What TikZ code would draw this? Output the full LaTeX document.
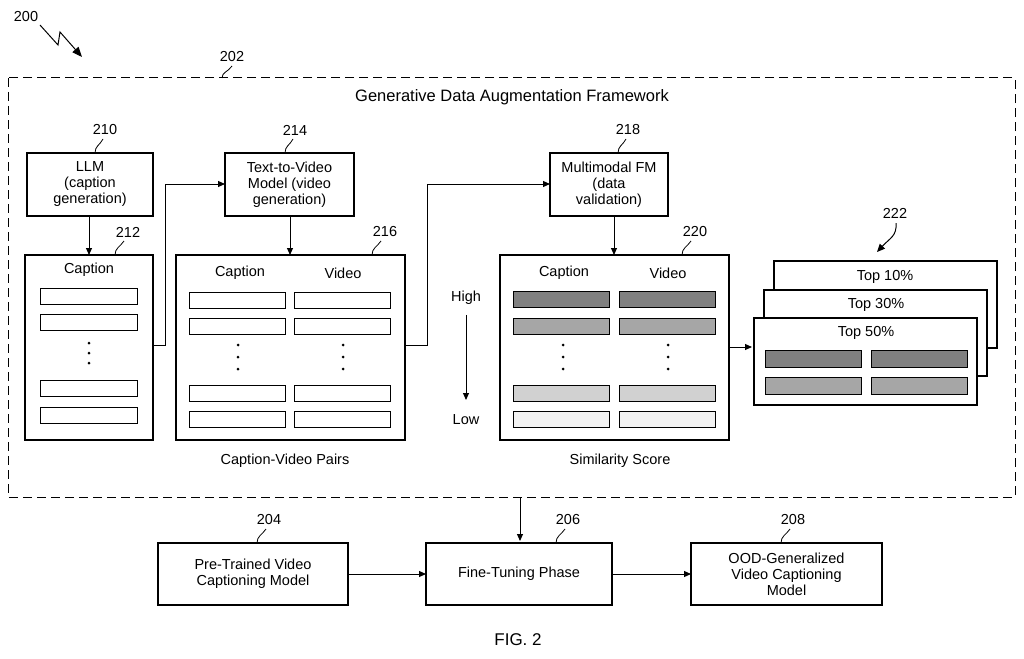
\documentclass[tikz,border=0pt]{standalone}
\usepackage{fontspec}
\setmainfont{Liberation Sans}
\usetikzlibrary{arrows.meta}
\begin{document}
\begin{tikzpicture}[x=1pt,y=-1pt,
  box/.style={draw,line width=1.1pt,fill=white},
  bar/.style={draw,line width=1pt},
  arr/.style={line width=1pt,-{Triangle[length=7pt,width=6pt]}},
  txt/.style={font=\fontsize{14.5}{16}\selectfont,align=center,inner sep=0},
  lbl/.style={font=\fontsize{14.5}{16}\selectfont,inner sep=0},
  tick/.style={line width=0.8pt}]
\useasboundingbox (0,0) rectangle (1024,658);
% frame
\draw[line width=1pt,dash pattern=on 9pt off 5pt] (8,78) rectangle (1015,497);
\node[lbl,font=\fontsize{16.5}{18}\selectfont] (title) at (512,97) {Generative Data Augmentation Framework};
\node[lbl] (l200) at (26,17) {200};
\coordinate (s200) at (82,57);
\draw[line width=1pt,-{Triangle[length=10pt,width=8pt]}] (40,25) -- (58,45) -- (60,32) -- (82,57);
\node[lbl] (l202) at (232,57) {202};
\draw[tick] (232,66) .. controls (228,72) and (222,72) .. (222,78);
% LLM
\draw[box] (27,153) rectangle (153,216);
\node[txt] (llm) at (90,184.5) {LLM\\(caption\\generation)};
\node[lbl] (l210) at (105,130) {210};
\draw[tick] (103,139) .. controls (100,145) and (95,146) .. (95,153);
% caption box 212
\draw[box] (25,255) rectangle (153,440);
\node[lbl] (c212) at (89,270) {Caption};
\foreach \y in {288,314,380,407} \draw[bar] (40,\y) rectangle (137,\y+16);
\foreach \y in {343,353,363} \fill (89,\y) circle (1.5);
\node[lbl] (l212) at (128,232) {212};
\draw[tick] (124,241) .. controls (120,247) and (115,248) .. (115,255);
\draw[arr] (89,216) -- (89,255);
% T2V
\draw[box] (225,153) rectangle (354,216);
\node[txt] (t2v) at (289.5,184.5) {Text-to-Video\\Model (video\\generation)};
\node[lbl] (l214) at (295,130) {214};
\draw[tick] (293,139) .. controls (290,145) and (285,146) .. (285,153);
\draw[arr] (153,345) -- (165,345) -- (165,184) -- (225,184);
\draw[arr] (290,216) -- (290,255);
% 216
\draw[box] (176,255) rectangle (405,440);
\node[lbl] (c216) at (240,273) {Caption};
\node[lbl] (v216) at (343,273) {Video};
\foreach \y in {292,318,385,411} {\draw[bar] (189,\y) rectangle (285,\y+16); \draw[bar] (294,\y) rectangle (390,\y+16);}
\foreach \y in {345,357,369} {\fill (238,\y) circle (1.5); \fill (343,\y) circle (1.5);}
\node[lbl] (l216) at (385,232) {216};
\draw[tick] (381,241) .. controls (377,247) and (372,248) .. (372,255);
\node[lbl] (cvp) at (285,461) {Caption-Video Pairs};
% MFM
\draw[arr] (405,345) -- (427,345) -- (427,184) -- (550,184);
\draw[box] (550,153) rectangle (668,216);
\node[txt] (mfm) at (609,184.5) {Multimodal FM\\(data\\validation)};
\node[lbl] (l218) at (628,130) {218};
\draw[tick] (626,139) .. controls (623,145) and (618,146) .. (618,153);
\draw[arr] (614,216) -- (614,255);
% 220
\draw[box] (500,255) rectangle (729,440);
\node[lbl] (c220) at (564,273) {Caption};
\node[lbl] (v220) at (668,273) {Video};
\foreach \y/\c in {291/{black!50},318/{black!35},385/{black!18},411/{black!5}} {\draw[bar,fill=\c] (513,\y) rectangle (609,\y+16); \draw[bar,fill=\c] (619,\y) rectangle (715,\y+16);}
\foreach \y in {345,357,369} {\fill (563,\y) circle (1.5); \fill (668,\y) circle (1.5);}
\node[lbl] (l220) at (695,232) {220};
\draw[tick] (691,241) .. controls (687,247) and (682,248) .. (682,255);
\node[lbl] (sim) at (620,461) {Similarity Score};
\node[lbl] (high) at (466,298) {High};
\node[lbl] (low) at (466,420) {Low};
\draw[arr] (high.south) ++(0,10) -- (466,400);
% stack
\draw[arr] (729,347) -- (752,347);
\draw[box] (774,261) rectangle (997,348);
\node[lbl] (t10) at (885,277) {Top 10\%};
\draw[box] (764,290) rectangle (987,376);
\node[lbl] (t30) at (876,305) {Top 30\%};
\draw[box] (754,318) rectangle (977,405);
\node[lbl] (t50) at (866,333) {Top 50\%};
\foreach \y/\c in {350/{black!50},377/{black!35}} {\draw[bar,fill=\c] (765,\y) rectangle (861,\y+17); \draw[bar,fill=\c] (871,\y) rectangle (967,\y+17);}
\node[lbl] (l222) at (895,213) {222};
\draw[line width=1pt,-{Triangle[length=8pt,width=7pt]}] (896,223) .. controls (897,236) and (890,238) .. (877,252);
% bottom
\draw[arr] (520,497) -- (520,541);
\draw[box] (158,543) rectangle (348,605);
\node[txt] (ptv) at (253,574) {Pre-Trained Video\\Captioning Model};
\draw[box] (426,543) rectangle (612,605);
\node[txt] (ft) at (519,574) {Fine-Tuning Phase};
\draw[box] (691,543) rectangle (882,605);
\node[txt] (ood) at (786.5,574) {OOD-Generalized\\Video Captioning\\Model};
\node[lbl] (l204) at (269,520) {204};
\draw[tick] (266,529) .. controls (262,535) and (257,536) .. (257,543);
\node[lbl] (l206) at (568,520) {206};
\draw[tick] (565,529) .. controls (561,535) and (556,536) .. (556,543);
\node[lbl] (l208) at (793,520) {208};
\draw[tick] (790,529) .. controls (786,535) and (781,536) .. (781,543);
\draw[arr] (348,574) -- (426,574);
\draw[arr] (612,574) -- (691,574);
\node[lbl,font=\fontsize{17}{19}\selectfont] (fig) at (518,640) {FIG. 2};
\end{tikzpicture}
\end{document}
